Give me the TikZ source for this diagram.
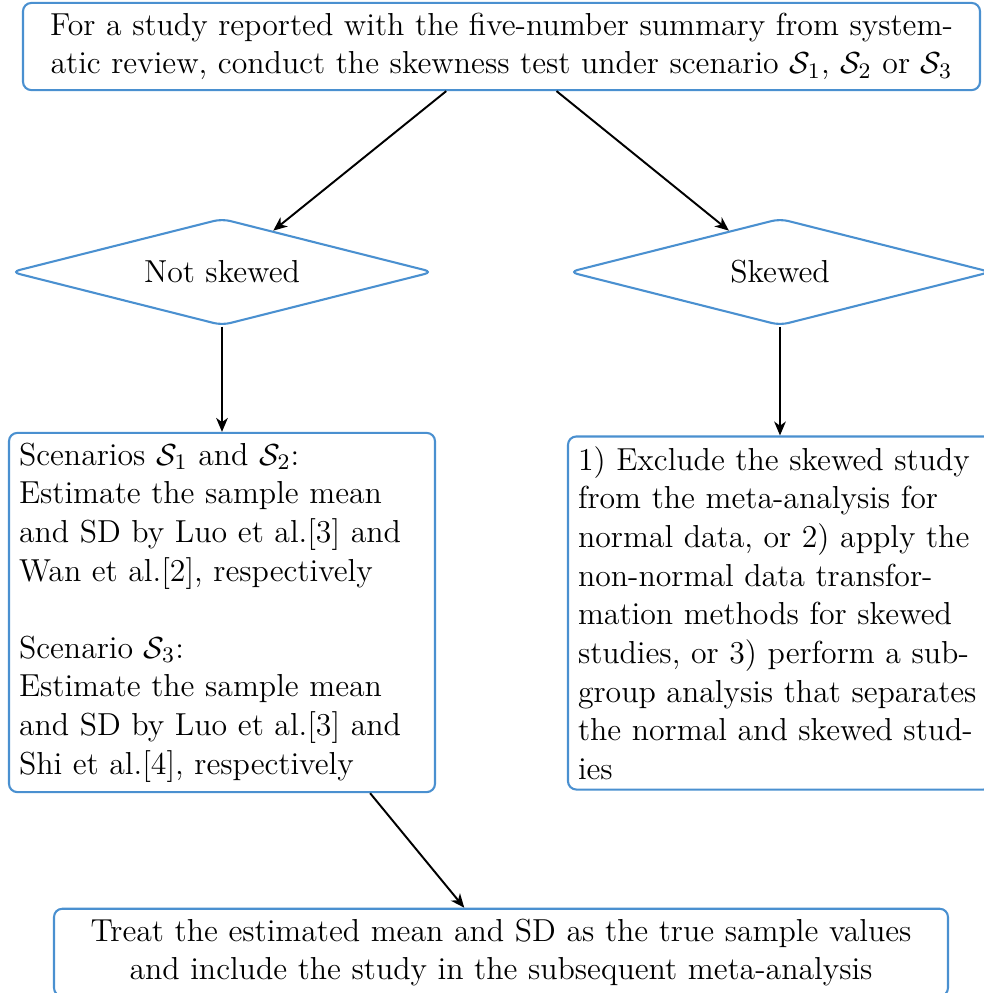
\documentclass[tikz,border=0pt,11pt]{standalone}
\usetikzlibrary{shapes.geometric,arrows.meta}
\definecolor{boxblue}{RGB}{74,144,208}
\def\u{0.36pt}
\tikzset{
  flowbox/.style={draw=boxblue, line width=0.75pt, rounded corners=3pt, inner sep=10*\u, fill=white},
  decision/.style={draw=boxblue, line width=0.75pt, diamond, rounded corners=3pt, aspect=3.95,
    minimum width=422*\u, minimum height=107*\u, inner sep=0pt},
  flowarrow/.style={-{Stealth[length=5pt,width=4.2pt,inset=1.5pt]}, line width=0.7pt, black}
}
\begin{document}
\begin{tikzpicture}[x=\u, y=-\u, font=\fontsize{11.45}{13.9}\selectfont]
\useasboundingbox (0,0) rectangle (984,993);
\node[flowbox, minimum width=957*\u, minimum height=87*\u, text width=910*\u, align=center] (top) at (501.5,46.5)
  {For a study reported with the five-number summary from system-\\
   atic review, conduct the skewness test under scenario $\mathcal{S}_1$, $\mathcal{S}_2$ or $\mathcal{S}_3$};
\node[decision] (notsk) at (222,272) {Not skewed};
\node[decision] (sk) at (780,272) {Skewed};
\node[flowbox, text width=406*\u, align=left] (lbox) at (222,612.5)
  {Scenarios $\mathcal{S}_1$ and $\mathcal{S}_2$:\\
   Estimate the sample mean\\
   and SD by Luo et al.[3] and\\
   Wan et al.[2], respectively\\[\baselineskip]
   Scenario $\mathcal{S}_3$:\\
   Estimate the sample mean\\
   and SD by Luo et al.[3] and\\
   Shi et al.[4], respectively};
\node[flowbox, text width=404*\u, align=left] (rbox) at (780,613)
  {1) Exclude the skewed study\\
   from the meta-analysis for\\
   normal data, or 2) apply the\\
   non-normal data transfor-\\
   mation methods for skewed\\
   studies, or 3) perform a sub-\\
   group analysis that separates\\
   the normal and skewed stud-\\
   ies};
\node[flowbox, minimum width=894*\u, minimum height=87*\u, text width=870*\u, align=center] (bot) at (501,952.5)
  {Treat the estimated mean and SD as the true sample values\\
   and include the study in the subsequent meta-analysis};
\draw[flowarrow] (top) -- (notsk);
\draw[flowarrow] (top) -- (sk);
\draw[flowarrow] (notsk) -- (lbox);
\draw[flowarrow] (sk) -- (rbox);
\draw[flowarrow] (lbox) -- (bot);
\end{tikzpicture}
\end{document}
